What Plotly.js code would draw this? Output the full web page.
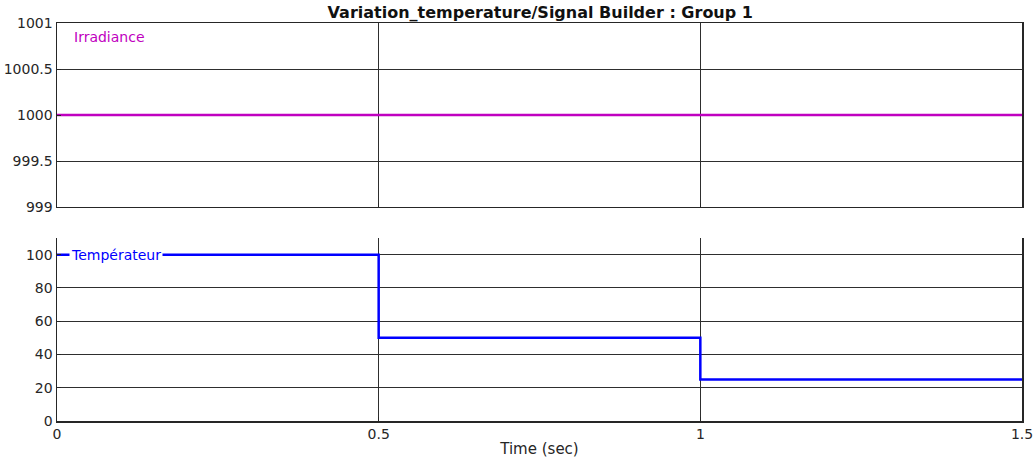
<!DOCTYPE html>
<html>
<head>
<meta charset="utf-8">
<script src="https://cdn.plot.ly/plotly-3.0.1.min.js"></script>
<style>html,body{margin:0;padding:0;background:#fff;}#chart{width:1033px;height:462px;}</style>
</head>
<body>
<div id="chart"></div>
<script>
// Data
const timeIrr = [0, 1.5];
const irradiance = [1000, 1000];
const timeTemp = [0, 0.5, 1, 1.5];
const temperature = [100, 50, 25, 25];
const xTicks = [0, 0.5, 1, 1.5];
const xTickText = ['0', '0.5', '1', '1.5'];
const yTicksTop = [999, 999.5, 1000, 1000.5, 1001];
const yTickTextTop = ['999', '999.5', '1000', '1000.5', '1001'];
const yTicksBottom = [0, 20, 40, 60, 80, 100];

const fontFam = 'DejaVu Sans, Arial, sans-serif';
const gridC = '#2e2e2e';
const axC = '#262626';

const traces = [
  {x: timeIrr, y: irradiance, xaxis: 'x', yaxis: 'y', mode: 'lines',
   line: {color: '#C000C0', width: 2.5}, name: 'Irradiance', hoverinfo: 'skip'},
  {x: timeTemp, y: temperature, xaxis: 'x2', yaxis: 'y2', mode: 'lines',
   line: {color: '#0000FF', width: 2.5, shape: 'hv'}, name: 'Températeur', hoverinfo: 'skip'}
];

const common = {
  showgrid: true, gridcolor: gridC, gridwidth: 1,
  zeroline: false, showline: true, linecolor: axC, linewidth: 1.5,
  ticks: 'inside', ticklen: 4, tickcolor: axC, ticklabeloverflow: 'allow',
  tickfont: {family: fontFam, size: 14, color: axC}
};

const layout = {
  width: 1033, height: 462,
  margin: {l: 57, r: 11, t: 23, b: 41},
  paper_bgcolor: '#fff', plot_bgcolor: '#fff',
  showlegend: false,
  title: {text: '<b>Variation_temperature/Signal Builder : Group 1</b>',
          font: {family: fontFam, size: 16, color: '#111'},
          x: 0.523, xanchor: 'center', y: 0.974, yanchor: 'middle', yref: 'container'},
  xaxis: Object.assign({}, common, {domain: [0, 1], range: [0, 1.5], anchor: 'y',
          tickvals: xTicks, showticklabels: false, mirror: true}),
  yaxis: Object.assign({}, common, {domain: [0.5377, 1], range: [999, 1001], anchor: 'x',
          tickvals: yTicksTop, ticktext: yTickTextTop, mirror: true}),
  xaxis2: Object.assign({}, common, {domain: [0, 1], range: [0, 1.5], anchor: 'y2',
          tickvals: xTicks, ticktext: xTickText, mirror: false,
          title: {text: 'Time (sec)', font: {family: fontFam, size: 15, color: axC}, standoff: 2}}),
  yaxis2: Object.assign({}, common, {domain: [0, 0.4598], range: [0, 110], anchor: 'x2',
          tickvals: yTicksBottom, mirror: true}),
  annotations: [
    {text: 'Irradiance', xref: 'x domain', yref: 'y domain', x: 0.0155, y: 0.924,
     xanchor: 'left', yanchor: 'middle', showarrow: false,
     font: {family: fontFam, size: 14, color: '#C000C0'}},
    {text: 'Températeur', xref: 'x2 domain', yref: 'y2', x: 0.0125, y: 100,
     xanchor: 'left', yanchor: 'middle', showarrow: false, bgcolor: '#fff', borderpad: 1,
     font: {family: fontFam, size: 14, color: '#0000FF'}}
  ]
};

Plotly.newPlot('chart', traces, layout, {displayModeBar: false, staticPlot: true});
</script>
</body>
</html>
